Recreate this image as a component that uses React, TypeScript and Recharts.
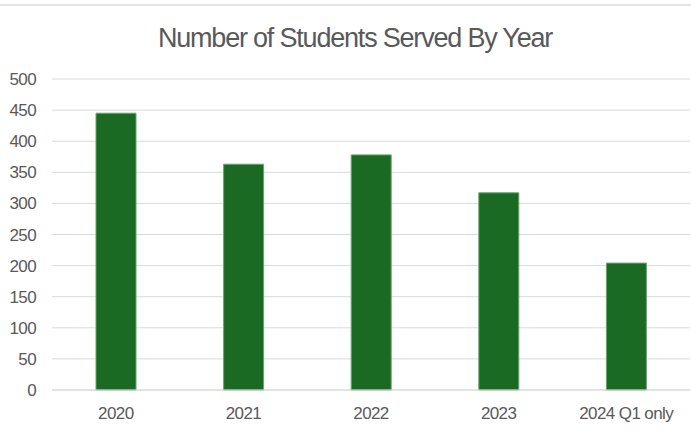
import React from "react";
import { BarChart, Bar, XAxis, YAxis, CartesianGrid } from "recharts";

const categories = ["2020", "2021", "2022", "2023", "2024 Q1 only"];
const students = [445, 363, 378, 317, 204];
const yTicks = [0, 50, 100, 150, 200, 250, 300, 350, 400, 450, 500];

const data = categories.map((c, i) => ({ year: c, students: students[i] }));

const FONT = "'Liberation Sans', Arial, sans-serif";
const TEXT = "#595959";

export default function App() {
  return (
    <div style={{ position: "absolute", left: 0, top: 0, width: 691, height: 434, background: "#fff", fontFamily: FONT }}>
      <div style={{ position: "absolute", left: 0, top: 4, width: 691, height: 0, borderTop: "2px solid #e3e3e3" }} />
      <div
        style={{
          position: "absolute",
          left: 0,
          top: 22,
          width: 710,
          textAlign: "center",
          fontSize: 27,
          lineHeight: "32px",
          color: TEXT,
          letterSpacing: -1.2,
        }}
      >
        Number of Students Served By Year
      </div>
      <BarChart
        width={691}
        height={434}
        data={data}
        margin={{ top: 79, right: 1, bottom: 14, left: 0 }}
        barCategoryGap={0}
      >
        <CartesianGrid vertical={false} stroke="#d9d9d9" strokeWidth={1} />
        <XAxis
          dataKey="year"
          tickLine={false}
          axisLine={{ stroke: "#d9d9d9" }}
          tick={{ fill: TEXT, fontSize: 17, fontFamily: FONT, letterSpacing: -0.6 }}
          tickMargin={11}
          interval={0}
        />
        <YAxis
          domain={[0, 500]}
          ticks={yTicks}
          width={52}
          tickLine={false}
          axisLine={false}
          tick={{ fill: TEXT, fontSize: 17, fontFamily: FONT, letterSpacing: -0.6 }}
          tickMargin={10}
          interval={0}
        />
        <Bar dataKey="students" fill="#1b6a23" stroke="#6aa46f" strokeWidth={1} barSize={40} isAnimationActive={false} />
      </BarChart>
    </div>
  );
}
